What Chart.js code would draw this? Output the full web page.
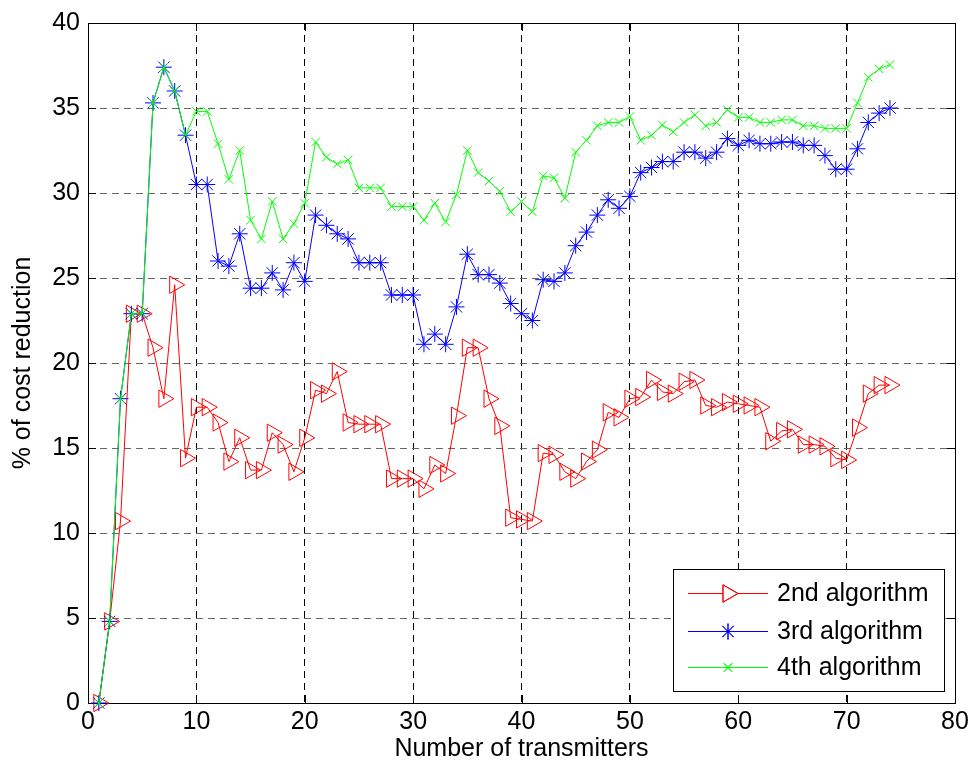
<!DOCTYPE html>
<html>
<head>
<meta charset="utf-8">
<script src="https://cdn.jsdelivr.net/npm/chart.js@4.4.0/dist/chart.umd.min.js"></script>
<style>
  html, body { margin: 0; padding: 0; background: #fff; }
  #graph { display: block; }
</style>
</head>
<body>
<canvas id="graph" width="973" height="770"></canvas>
<script>
// ---------------- données ----------------
const transmitters = [1, 2, 3, 4, 5, 6, 7, 8, 9, 10, 11, 12, 13, 14, 15, 16, 17, 18, 19, 20,
  21, 22, 23, 24, 25, 26, 27, 28, 29, 30, 31, 32, 33, 34, 35, 36, 37, 38, 39, 40,
  41, 42, 43, 44, 45, 46, 47, 48, 49, 50, 51, 52, 53, 54, 55, 56, 57, 58, 59, 60,
  61, 62, 63, 64, 65, 66, 67, 68, 69, 70, 71, 72, 73, 74]

const algo2 = [0, 4.8, 10.7, 22.9, 22.9, 20.9, 17.9, 24.6, 14.4, 17.4,
  17.4, 16.5, 14.2, 15.6, 13.7, 13.7, 15.9, 15.2, 13.6, 15.6,
  18.4, 18.2, 19.5, 16.5, 16.4, 16.4, 16.4, 13.2, 13.2, 13.2,
  12.6, 14.0, 13.5, 16.9, 20.9, 20.9, 17.9, 16.3, 10.9, 10.8,
  10.7, 14.7, 14.6, 13.6, 13.2, 14.2, 14.9, 17.1, 16.8, 17.9,
  18.0, 19.0, 18.3, 18.2, 18.9, 19.0, 17.5, 17.4, 17.7, 17.6,
  17.5, 17.4, 15.4, 16.0, 16.1, 15.2, 15.2, 15.1, 14.4, 14.3,
  16.2, 18.2, 18.7, 18.7]

const algo3 = [0, 4.8, 17.9, 22.9, 22.9, 35.3, 37.4, 36.0, 33.4, 30.5,
  30.5, 26.0, 25.7, 27.6, 24.4, 24.4, 25.3, 24.3, 25.9, 24.8,
  28.7, 28.1, 27.6, 27.3, 25.9, 25.9, 25.9, 24.0, 24.0, 24.0,
  21.1, 21.7, 21.1, 23.3, 26.4, 25.2, 25.2, 24.7, 23.5, 22.9,
  22.5, 24.9, 24.8, 25.3, 26.9, 27.7, 28.7, 29.6, 29.1, 29.8,
  31.2, 31.5, 31.85, 31.85, 32.4, 32.4, 32.05, 32.4, 33.2, 32.8,
  33.1, 32.9, 32.9, 33.0, 33.0, 32.8, 32.8, 32.2, 31.4, 31.4,
  32.6, 34.15, 34.7, 35.0]

const algo4 = [0, 4.8, 17.9, 22.9, 22.9, 35.3, 37.4, 36.0, 33.4, 34.8,
  34.8, 32.9, 30.8, 32.5, 28.4, 27.3, 29.5, 27.3, 28.2, 29.4,
  33.0, 32.1, 31.7, 31.95, 30.3, 30.3, 30.3, 29.2, 29.2, 29.2,
  28.4, 29.4, 28.3, 29.9, 32.5, 31.2, 30.7, 30.1, 28.9, 29.5,
  28.9, 31.0, 30.9, 29.7, 32.4, 33.1, 33.95, 34.15, 34.15, 34.5,
  33.1, 33.4, 34.0, 33.6, 34.15, 34.6, 33.95, 34.15, 34.9, 34.45,
  34.45, 34.15, 34.15, 34.3, 34.3, 33.95, 33.95, 33.8, 33.8, 33.8,
  35.3, 36.8, 37.3, 37.55]

const seriesNames = ['2nd algorithm', '3rd algorithm', '4th algorithm']
const xTitle = 'Number of transmitters'
const yTitle = '% of cost reduction'

const FONT = "'Liberation Sans', Arial, Helvetica, sans-serif"

function toPoints(values) {
  return transmitters.map((x, i) => ({ x: x, y: values[i] }))
}

// ---------------- plugin : cadre + ticks intérieurs (style matlab) ----------------
const matlabBox = {
  id: 'matlabBox',
  beforeDatasetsDraw(chart) {
    const { ctx, chartArea: a, scales } = chart
    ctx.save()
    ctx.strokeStyle = '#000'
    ctx.lineWidth = 1
    ctx.strokeRect(Math.round(a.left) + 0.5, Math.round(a.top) + 0.5, Math.round(a.right - a.left), Math.round(a.bottom - a.top))
    const len = 8
    ctx.beginPath()
    for (const t of scales.x.ticks) {
      const px = Math.round(scales.x.getPixelForValue(t.value)) + 0.5
      ctx.moveTo(px, a.bottom); ctx.lineTo(px, a.bottom - len)
      ctx.moveTo(px, a.top); ctx.lineTo(px, a.top + len)
    }
    for (const t of scales.y.ticks) {
      const py = Math.round(scales.y.getPixelForValue(t.value)) + 0.5
      ctx.moveTo(a.left, py); ctx.lineTo(a.left + len, py)
      ctx.moveTo(a.right, py); ctx.lineTo(a.right - len, py)
    }
    ctx.stroke()

    // titres des axes
    ctx.fillStyle = '#000'
    ctx.font = '25px ' + FONT
    ctx.textAlign = 'center'
    ctx.textBaseline = 'middle'
    ctx.fillText(xTitle, (a.left + a.right) / 2, 749)
    ctx.translate(23, (a.top + a.bottom) / 2)
    ctx.rotate(-Math.PI / 2)
    ctx.fillText(yTitle, 0, 0)
    ctx.restore()
  }
}

// ---------------- plugin : légende en bas à droite ----------------
const matlabLegend = {
  id: 'matlabLegend',
  afterDatasetsDraw(chart) {
    const ctx = chart.ctx
    const box = { left: 673, top: 569, right: 944, bottom: 691 }
    ctx.save()
    ctx.fillStyle = '#fff'
    ctx.fillRect(box.left, box.top, box.right - box.left, box.bottom - box.top)
    ctx.strokeStyle = '#000'
    ctx.lineWidth = 1
    ctx.strokeRect(box.left + 0.5, box.top + 0.5, box.right - box.left, box.bottom - box.top)

    const rows = [593, 631, 667]
    chart.data.datasets.forEach((ds, i) => {
      const y = rows[i]
      ctx.strokeStyle = ds.borderColor
      ctx.lineWidth = 1
      ctx.beginPath()
      ctx.moveTo(688, y + 0.5); ctx.lineTo(768, y + 0.5)
      ctx.stroke()
      Chart.helpers.drawPoint(ctx, {
        pointStyle: ds.pointStyle,
        radius: ds.pointRadius,
        rotation: ds.pointRotation || 0,
        borderWidth: 1
      }, 728, y + 0.5)
      ctx.stroke()
      ctx.fillStyle = '#000'
      ctx.font = '25px ' + FONT
      ctx.textAlign = 'left'
      ctx.textBaseline = 'middle'
      ctx.fillText(seriesNames[i], 777, y + 1)
    })
    ctx.restore()
  }
}

document.addEventListener('DOMContentLoaded', function () {
  Chart.defaults.font.family = FONT
  Chart.defaults.font.size = 25
  Chart.defaults.color = '#000'

  const data = {
    datasets: [
      {
        label: seriesNames[0], data: toPoints(algo2), order: 3,
        borderColor: '#ff0000', borderWidth: 1,
        pointStyle: 'triangle', pointRotation: 90, pointRadius: 10,
        pointBorderColor: '#ff0000', pointBackgroundColor: 'rgba(0,0,0,0)', pointBorderWidth: 1
      },
      {
        label: seriesNames[1], data: toPoints(algo3), order: 2,
        borderColor: '#0000ff', borderWidth: 1,
        pointStyle: 'star', pointRadius: 8,
        pointBorderColor: '#0000ff', pointBackgroundColor: 'rgba(0,0,0,0)', pointBorderWidth: 1
      },
      {
        label: seriesNames[2], data: toPoints(algo4), order: 1,
        borderColor: '#00ff00', borderWidth: 1,
        pointStyle: 'crossRot', pointRadius: 6,
        pointBorderColor: '#00ff00', pointBackgroundColor: 'rgba(0,0,0,0)', pointBorderWidth: 1
      }
    ]
  }

  const config = {
    type: 'line',
    data: data,
    options: {
      responsive: false,
      animation: false,
      devicePixelRatio: 1,
      layout: { padding: { top: 17, right: 18, left: 0, bottom: 0 } },
      elements: { line: { tension: 0 } },
      datasets: { line: { clip: false } },
      plugins: { legend: { display: false }, tooltip: { enabled: false }, title: { display: false } },
      scales: {
        x: {
          type: 'linear', min: 0, max: 80,
          ticks: { stepSize: 10, padding: 4, maxRotation: 0 },
          grid: { color: '#000', lineWidth: 1, drawTicks: false },
          border: { display: false, dash: [7, 5] },
          afterFit(scale) { scale.height = 67 }
        },
        y: {
          type: 'linear', min: 0, max: 40,
          ticks: { stepSize: 5, padding: 8 },
          grid: { color: '#666', lineWidth: 1, drawTicks: false },
          border: { display: false, dash: [7, 5] },
          afterFit(scale) { scale.width = 88 }
        }
      }
    },
    plugins: [matlabBox, matlabLegend]
  }

  new Chart(document.getElementById('graph'), config)
})
</script>
</body>
</html>
